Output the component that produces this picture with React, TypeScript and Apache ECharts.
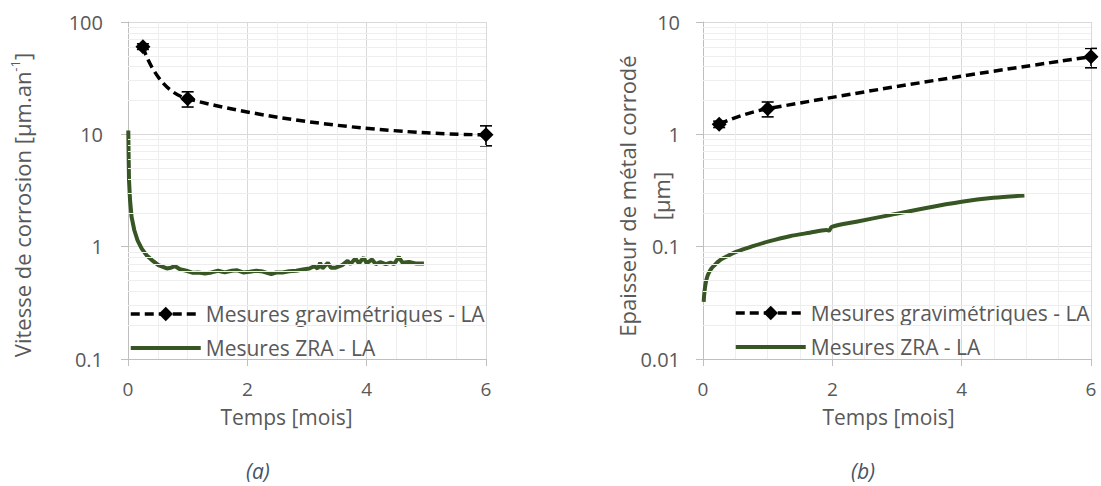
import React, { useEffect, useRef } from "react";
import * as echarts from "echarts";

const FONT = "Open Sans";
const TXT = "#595959";
const GREEN = "#375623";

// (a) Corrosion rate
const gravTime = [0.25, 1, 6];
const gravRate = [60.3, 20.7, 9.9];
const gravRateLow = [57, 17.5, 7.9];
const gravRateHigh = [64, 23.9, 11.9];

const zraTimeA = [0.005, 0.01, 0.017, 0.034, 0.06, 0.106, 0.16, 0.23, 0.31, 0.4, 0.51, 0.65, 0.72, 0.79, 0.87, 0.98, 1.09, 1.18, 1.29, 1.4, 1.51, 1.62, 1.74, 1.82, 1.93, 2.04, 2.15, 2.26, 2.4, 2.48, 2.59, 2.7, 2.82, 2.93, 3.04, 3.12, 3.18, 3.22, 3.26, 3.35, 3.4, 3.48, 3.59, 3.68, 3.73, 3.81, 3.87, 3.95, 4.0, 4.09, 4.15, 4.23, 4.32, 4.4, 4.46, 4.54, 4.6, 4.71, 4.82, 4.96];
const zraRateA = [10.8, 6.7, 3.9, 2.6, 1.84, 1.4, 1.14, 0.96, 0.84, 0.76, 0.685, 0.64, 0.65, 0.67, 0.63, 0.61, 0.585, 0.59, 0.578, 0.59, 0.61, 0.59, 0.61, 0.618, 0.589, 0.597, 0.61, 0.6, 0.57, 0.589, 0.589, 0.604, 0.61, 0.627, 0.64, 0.67, 0.64, 0.718, 0.64, 0.718, 0.65, 0.65, 0.685, 0.748, 0.7, 0.785, 0.71, 0.8, 0.71, 0.77, 0.7, 0.73, 0.7, 0.72, 0.7, 0.81, 0.72, 0.73, 0.71, 0.71];

// (b) Corroded thickness
const gravThick = [1.23, 1.69, 4.9];
const gravThickLow = [1.15, 1.43, 3.91];
const gravThickHigh = [1.31, 1.94, 5.82];

const zraTimeB = [0.011, 0.015, 0.026, 0.035, 0.052, 0.07, 0.1, 0.13, 0.18, 0.24, 0.31, 0.52, 0.77, 1.03, 1.34, 1.65, 1.91, 1.95, 1.99, 2.37, 2.89, 3.41, 4.0, 4.49, 4.97];
const zraThickB = [0.0323, 0.0355, 0.041, 0.045, 0.0505, 0.055, 0.06, 0.064, 0.0686, 0.074, 0.0787, 0.0902, 0.101, 0.112, 0.124, 0.133, 0.1406, 0.139, 0.15, 0.1667, 0.191, 0.219, 0.251, 0.272, 0.285];

const xTicks = { min: 0, max: 6, interval: 2 };
const yRangeA = { min: 0.1, max: 100 };
const yRangeB = { min: 0.01, max: 10 };
const minorMultipliers = [2, 3, 4, 5, 6, 7, 8, 9];
const decadesA = [0.1, 1, 10];
const decadesB = [0.01, 0.1, 1];

const NAME_GRAV = "Mesures gravimétriques - LA";
const NAME_ZRA = "Mesures ZRA - LA";

function minorValues(decades: number[]) {
  const out: number[] = [];
  decades.forEach((d) => minorMultipliers.forEach((m) => out.push(+(d * m).toPrecision(3))));
  return out;
}

function mkX(gridIndex: number, padRight: number) {
  return {
    type: "value",
    gridIndex,
    min: xTicks.min,
    max: xTicks.max,
    interval: xTicks.interval,
    axisLine: { show: true, lineStyle: { color: "#BFBFBF", width: 1 } },
    axisTick: { show: true, length: 7, lineStyle: { color: "#BFBFBF" } },
    axisLabel: { color: TXT, fontSize: 19, margin: 20, lineHeight: 19, fontFamily: FONT },
    splitLine: { show: true, lineStyle: { color: "#D9D9D9", width: 1 } },
    minorTick: { show: false, splitNumber: 4 },
    minorSplitLine: { show: true, lineStyle: { color: "#EEEEEE", width: 1 } },
    name: "Temps [mois]",
    nameLocation: "middle",
    nameGap: 47,
    nameMoveOverlap: false,
    nameTextStyle: { color: TXT, fontSize: 21, lineHeight: 21, fontFamily: FONT, padding: [0, padRight, 0, 0] },
  };
}

function mkY(gridIndex: number, range: { min: number; max: number }, name: string, rich: any, nameGap: number, padRight: number, margin: number) {
  return {
    type: "log",
    logBase: 10,
    gridIndex,
    min: range.min,
    max: range.max,
    axisLine: { show: true, lineStyle: { color: "#BFBFBF", width: 1 } },
    axisTick: { show: true, length: 7, lineStyle: { color: "#BFBFBF" } },
    axisLabel: {
      color: TXT,
      fontSize: 20,
      margin,
      fontFamily: FONT,
      formatter: (v: number) => String(+(+v).toPrecision(3)),
    },
    splitLine: { show: true, lineStyle: { color: "#D9D9D9", width: 1 } },
    name,
    nameLocation: "middle",
    nameGap,
    nameRotate: 90,
    nameMoveOverlap: false,
    nameTextStyle: { rich, padding: [0, padRight, 0, 0] },
  };
}

function errorSeries(idx: number, lows: number[], highs: number[]) {
  return {
    type: "custom",
    name: "err" + idx,
    xAxisIndex: idx,
    yAxisIndex: idx,
    z: 4,
    silent: true,
    data: gravTime.map((t, i) => [t, lows[i], highs[i]]),
    encode: { x: 0, y: [1, 2] },
    renderItem: (_p: any, api: any) => {
      const x = api.value(0);
      const p1 = api.coord([x, api.value(1)]);
      const p2 = api.coord([x, api.value(2)]);
      const cap = 6;
      const style = { stroke: "#000", lineWidth: 1.6 };
      return {
        type: "group",
        children: [
          { type: "line", shape: { x1: p1[0], y1: p1[1], x2: p2[0], y2: p2[1] }, style },
          { type: "line", shape: { x1: p1[0] - cap, y1: p1[1], x2: p1[0] + cap, y2: p1[1] }, style },
          { type: "line", shape: { x1: p2[0] - cap, y1: p2[1], x2: p2[0] + cap, y2: p2[1] }, style },
        ],
      };
    },
  };
}

function minorGridSeries(idx: number, decades: number[]) {
  return {
    type: "line",
    name: "minor" + idx,
    xAxisIndex: idx,
    yAxisIndex: idx,
    data: [],
    z: 1,
    silent: true,
    markLine: {
      silent: true,
      symbol: ["none", "none"],
      label: { show: false },
      emphasis: { disabled: true },
      lineStyle: { color: "#EEEEEE", type: "solid", width: 1 },
      data: minorValues(decades).map((v) => ({ yAxis: v })),
    },
  };
}

function gravSeries(idx: number, values: number[]) {
  return {
    type: "line",
    name: NAME_GRAV,
    xAxisIndex: idx,
    yAxisIndex: idx,
    z: 5,
    smooth: 0.5,
    symbol: "diamond",
    symbolSize: 15,
    itemStyle: { color: "#000" },
    lineStyle: { color: "#000", width: 3.5, type: [9, 5] },
    data: gravTime.map((t, i) => [t, values[i]]),
  };
}

function zraSeries(idx: number, xs: number[], ys: number[], smooth: number | boolean) {
  return {
    type: "line",
    name: NAME_ZRA,
    xAxisIndex: idx,
    yAxisIndex: idx,
    z: 3,
    smooth,
    symbol: "none",
    itemStyle: { color: GREEN },
    lineStyle: { color: GREEN, width: 4 },
    data: xs.map((t, i) => [t, ys[i]]),
  };
}

function mkLegend(left: number, top: number) {
  return {
    orient: "vertical",
    left,
    top,
    itemWidth: 70,
    itemHeight: 18,
    itemGap: 8,
    selectedMode: false,
    data: [
      {
        name: NAME_GRAV,
        itemStyle: { color: "#000" },
        lineStyle: { color: "#000", width: 3.5, type: [9, 5] },
      },
      {
        name: NAME_ZRA,
        icon: "path://M0 0H70V4H0Z",
        itemStyle: { color: GREEN },
      },
    ],
    textStyle: { color: TXT, fontSize: 21, lineHeight: 26, fontFamily: FONT },
  };
}

export default function App() {
  const ref = useRef<HTMLDivElement>(null);
  useEffect(() => {
    if (!ref.current) return;
    const chart = echarts.init(ref.current, null, { renderer: "svg" });
    const richA = {
      t: { fontSize: 22, color: TXT, fontFamily: FONT, lineHeight: 28 },
      s: { fontSize: 13, color: TXT, fontFamily: FONT, verticalAlign: "top", lineHeight: 13 },
    };
    const richB = {
      t: { fontSize: 22, color: TXT, fontFamily: FONT, lineHeight: 34 },
    };
    const option: any = {
      animation: false,
      backgroundColor: "#FFFFFF",
      textStyle: { fontFamily: FONT },
      grid: [
        { left: 128, top: 22, width: 358, height: 337 },
        { left: 703, top: 22, width: 388, height: 337 },
      ],
      xAxis: [mkX(0, 41), mkX(1, 17)],
      yAxis: [
        mkY(0, yRangeA, "{t|Vitesse de corrosion [µm.an}{s|-1}{t|]}", richA, 92, 29, 25),
        mkY(1, yRangeB, "{t|Epaisseur de métal corrodé}\n{t|[µm]}", richB, 25, 11, 23),
      ],
      legend: [mkLegend(124, 296), mkLegend(729, 295)],
      series: [
        minorGridSeries(0, decadesA),
        minorGridSeries(1, decadesB),
        zraSeries(0, zraTimeA, zraRateA, false),
        zraSeries(1, zraTimeB, zraThickB, 0.3),
        gravSeries(0, gravRate),
        gravSeries(1, gravThick),
        errorSeries(0, gravRateLow, gravRateHigh),
        errorSeries(1, gravThickLow, gravThickHigh),
      ],
      graphic: [
        {
          type: "text",
          left: 246,
          top: 460,
          style: { text: "(a)", fill: "#44546A", font: `italic 21px "${FONT}"` },
        },
        {
          type: "text",
          left: 851,
          top: 460,
          style: { text: "(b)", fill: "#44546A", font: `italic 21px "${FONT}"` },
        },
      ],
    };
    chart.setOption(option);
    return () => chart.dispose();
  }, []);
  return (
    <div
      ref={ref}
      style={{ position: "fixed", left: 0, top: 0, width: 1101, height: 486, background: "#fff" }}
    />
  );
}
